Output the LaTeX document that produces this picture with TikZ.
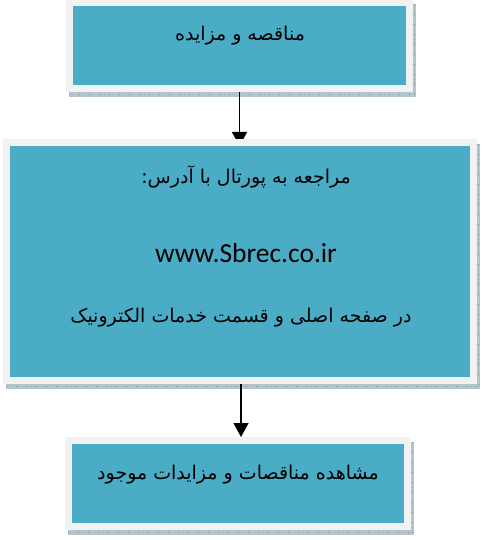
\documentclass[tikz,border=0pt]{standalone}
\usepackage{fontspec}
\usetikzlibrary{arrows.meta,backgrounds}
\TeXXeTstate=1
\newfontfamily\arabicfont[Script=Arabic]{DejaVu Sans}
\newfontfamily\urlfont{Carlito}
\definecolor{boxteal}{HTML}{4BACC6}
\definecolor{boxframe}{HTML}{F2F2F2}
\definecolor{shadowfill}{HTML}{B3C5CB}
\definecolor{shadowtick}{HTML}{7C939B}
\pgfdeclarelayer{shadowlayer}
\pgfdeclarelayer{arrowlayer}
\pgfsetlayers{shadowlayer,arrowlayer,main}
\tikzset{
  flowbox/.style={draw=boxframe, fill=boxteal, line width=7pt, rectangle, inner sep=0pt},
  boxshadow/.style={fill=shadowfill},
  shadowticks/.style={draw=shadowtick, line width=0.8pt, dash pattern=on 1pt off 9pt},
  flowarrow/.style={draw=black, line width=1.5pt, -{Triangle[width=15pt,length=14pt]}},
  fatext/.style={font=\arabicfont\fontsize{19}{23}\selectfont, inner sep=0pt, text=black},
  urltext/.style={font=\urlfont\fontsize{27.5}{32}\selectfont, inner sep=0pt, text=black}
}
\begin{document}
\begin{tikzpicture}[x=1pt,y=-1pt]
\useasboundingbox (0,0) rectangle (483,540);
% boxes
\node[flowbox, minimum width=340pt, minimum height=86pt] (b1) at (239.5,45.5) {};
\node[flowbox, minimum width=467pt, minimum height=238pt] (b2) at (240,261.5) {};
\node[flowbox, minimum width=339pt, minimum height=86pt] (b3) at (238,483.5) {};
% texts
\node[fatext] (t1) at (240,36) {\beginR مناقصه و مزایده\endR};
\node[fatext] (t2a) at (246,177) {\beginR مراجعه به پورتال با آدرس:\endR};
\node[urltext] (t2b) at (246,253) {www.Sbrec.co.ir};
\node[fatext] (t2c) at (241,318) {\beginR در صفحه اصلی و قسمت خدمات الکترونیک\endR};
\node[fatext] (t3) at (238,475) {\beginR مشاهده مناقصات و مزایدات موجود\endR};
% shadows
\begin{pgfonlayer}{shadowlayer}
  \foreach \b in {b1,b2,b3}{
    \fill[boxshadow] ([shift={(3pt,-5pt)}]\b.south west) rectangle ([shift={(3pt,-5pt)}]\b.north east);
    \draw[shadowticks] ([shift={(3pt,-2.5pt)}]\b.south west) -- ([shift={(3pt,-2.5pt)}]\b.south east);
    \draw[shadowticks] ([shift={(1.5pt,-5pt)}]\b.north east) -- ([shift={(1.5pt,-5pt)}]\b.south east);
  }
\end{pgfonlayer}
% arrows
\begin{pgfonlayer}{arrowlayer}
  \draw[flowarrow] ([yshift=5pt]b1.south) -- ([yshift=-7pt]b1.south |- b2.north);
  \draw[flowarrow] ([xshift=1pt]b2.south) -- ([xshift=1pt]b2.south |- b3.north);
\end{pgfonlayer}
\end{tikzpicture}
\end{document}
